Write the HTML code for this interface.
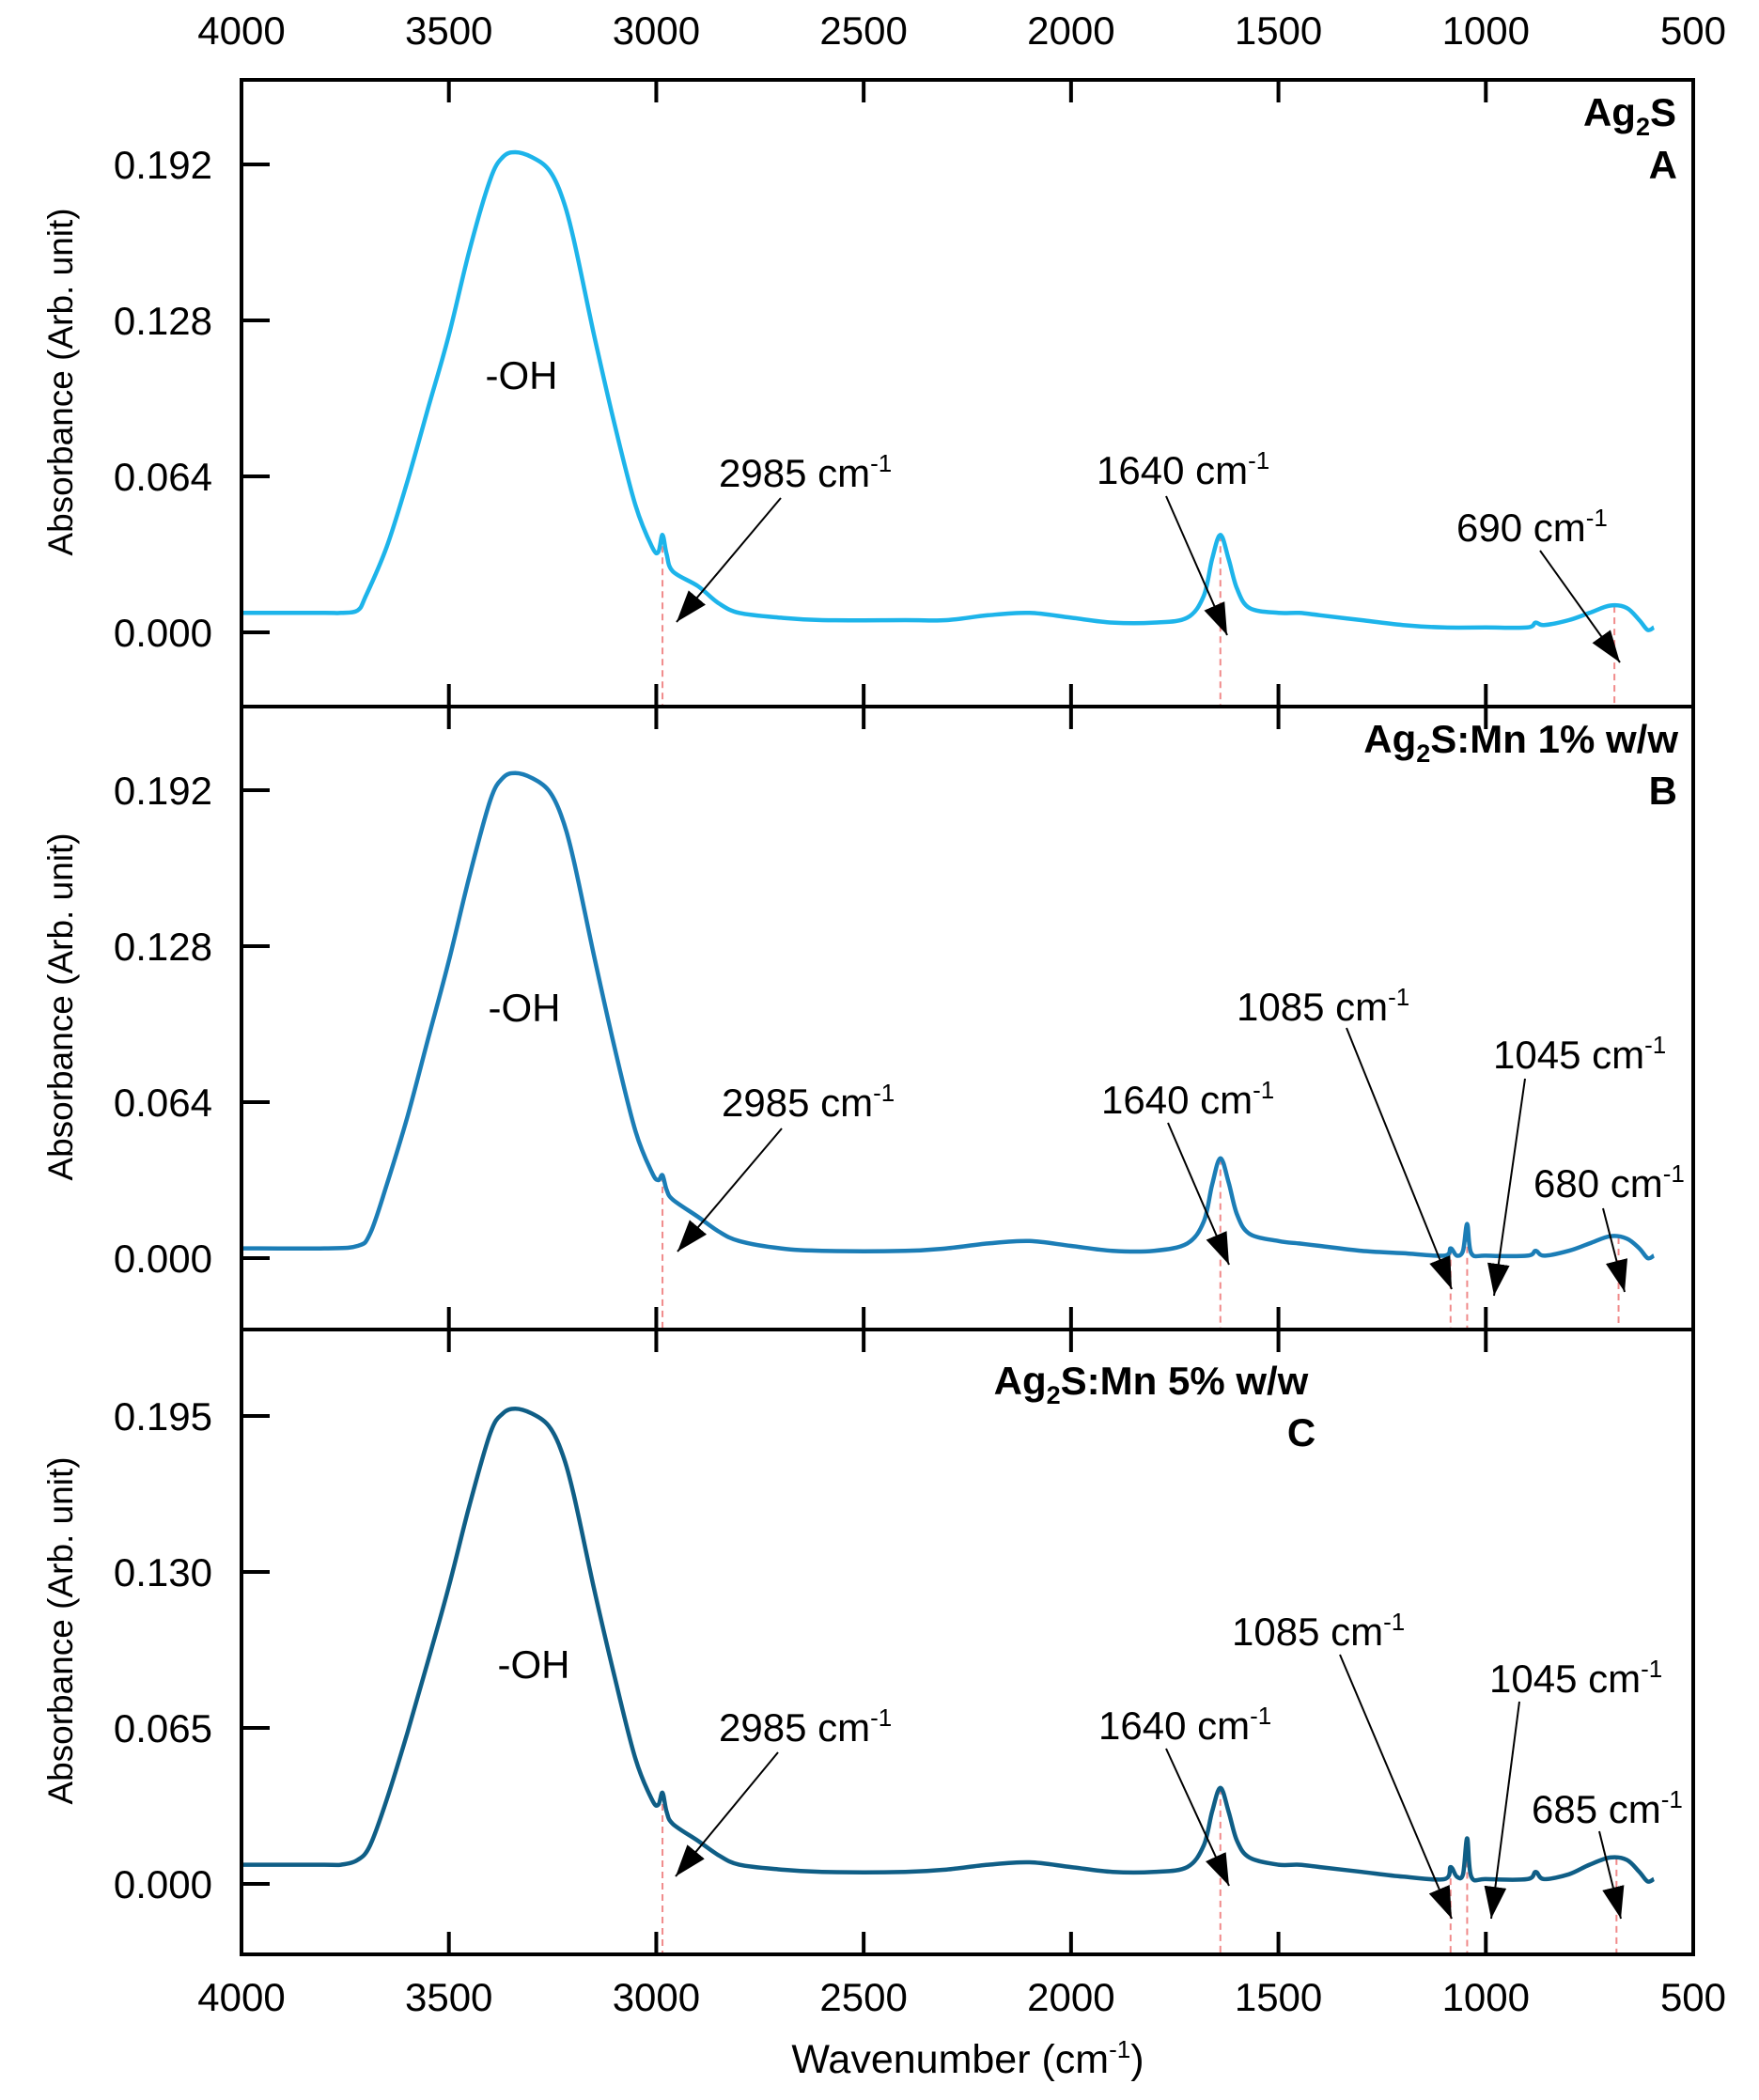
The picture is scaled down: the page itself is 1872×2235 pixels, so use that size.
<!DOCTYPE html>
<html><head><meta charset="utf-8">
<style>
html,body{margin:0;padding:0;background:#fff;}
svg{display:block;font-family:"Liberation Sans",Arial,sans-serif;}
</style></head>
<body>
<svg id="chart" width="1872" height="2235" viewBox="0 0 1872 2235" xmlns="http://www.w3.org/2000/svg">
</svg>
<script>
// ---- data ----
const xTicks = [4000,3500,3000,2500,2000,1500,1000,500];
const yTicksA = [0.000,0.064,0.128,0.192];
const yTicksB = [0.000,0.064,0.128,0.192];
const yTicksC = [0.000,0.065,0.130,0.195];
const wnA = [4000,3800,3760,3720,3700,3650,3600,3550,3500,3450,3400,3370,3340,3300,3260,3230,3200,3150,3100,3050,3010,2995,2985,2975,2960,2900,2850,2800,2700,2600,2400,2300,2200,2100,2000,1900,1800,1720,1680,1660,1640,1620,1600,1570,1500,1450,1400,1300,1200,1100,1000,900,880,860,800,750,700,660,630,610,595];
const absA = [0.008,0.008,0.008,0.009,0.015,0.035,0.062,0.092,0.122,0.157,0.186,0.195,0.197,0.195,0.190,0.180,0.162,0.122,0.085,0.052,0.035,0.033,0.040,0.032,0.025,0.019,0.012,0.008,0.006,0.005,0.005,0.005,0.007,0.008,0.006,0.004,0.004,0.006,0.015,0.030,0.040,0.030,0.018,0.010,0.008,0.008,0.007,0.005,0.003,0.002,0.002,0.002,0.004,0.003,0.005,0.008,0.011,0.010,0.005,0.001,0.002];
const wnB = [4000,3800,3720,3690,3650,3600,3550,3500,3450,3400,3370,3340,3300,3260,3230,3200,3150,3100,3050,3010,2995,2985,2975,2960,2900,2850,2800,2700,2600,2400,2300,2200,2100,2000,1900,1800,1720,1680,1660,1640,1620,1600,1570,1500,1450,1400,1300,1200,1100,1085,1070,1055,1045,1035,1000,900,880,860,800,750,700,660,630,610,595];
const absB = [0.004,0.004,0.005,0.010,0.030,0.058,0.090,0.122,0.157,0.188,0.197,0.199,0.197,0.192,0.182,0.164,0.124,0.086,0.052,0.035,0.032,0.034,0.028,0.024,0.017,0.011,0.007,0.004,0.003,0.003,0.004,0.006,0.007,0.005,0.003,0.003,0.006,0.015,0.030,0.041,0.031,0.018,0.010,0.007,0.006,0.005,0.003,0.002,0.001,0.004,0.001,0.003,0.014,0.002,0.001,0.001,0.003,0.001,0.003,0.006,0.009,0.008,0.004,0.000,0.001];
const wnC = [4000,3800,3760,3720,3690,3650,3600,3550,3500,3450,3400,3370,3340,3300,3260,3230,3200,3150,3100,3050,3010,2995,2985,2975,2960,2900,2850,2800,2700,2600,2400,2300,2200,2100,2000,1900,1800,1720,1680,1660,1640,1620,1600,1570,1500,1450,1400,1300,1200,1100,1085,1070,1055,1045,1035,1000,900,880,860,800,750,700,660,630,610,595];
const absC = [0.008,0.008,0.008,0.010,0.016,0.035,0.063,0.093,0.124,0.158,0.188,0.196,0.198,0.196,0.191,0.181,0.163,0.123,0.086,0.052,0.035,0.033,0.038,0.030,0.025,0.018,0.012,0.008,0.006,0.005,0.005,0.006,0.008,0.009,0.007,0.005,0.005,0.007,0.016,0.030,0.040,0.030,0.018,0.011,0.008,0.008,0.007,0.005,0.003,0.002,0.007,0.003,0.004,0.019,0.003,0.002,0.002,0.005,0.002,0.004,0.008,0.011,0.010,0.005,0.001,0.002];
const peaksA = [2985,1640,690];
const peaksB = [2985,1640,1085,1045,680];
const peaksC = [2985,1640,1085,1045,685];

// ---- layout ----
const L=257, R=1802;
const panels = [
 {top:85, bot:752, y0:673, step:0.064, ticks:yTicksA, wn:wnA, ab:absA, peaks:peaksA, color:"#1db4ea", id:"a"},
 {top:752, bot:1415, y0:1339, step:0.064, ticks:yTicksB, wn:wnB, ab:absB, peaks:peaksB, color:"#1b7db6", id:"b"},
 {top:1415, bot:2080, y0:2005, step:0.065, ticks:yTicksC, wn:wnC, ab:absC, peaks:peaksC, color:"#0f5e86", id:"c"}
];
const pxPerStep=166;
const svg=document.getElementById('chart');
const NS="http://www.w3.org/2000/svg";
function X(w){return L+(4000-w)*(R-L)/3500;}
function mk(tag,attrs,parent){const e=document.createElementNS(NS,tag);for(const k in attrs)e.setAttribute(k,attrs[k]);(parent||svg).appendChild(e);return e;}
function txt(s,x,y,size,anchor,weight,parent){const t=mk('text',{x:x,y:y,'font-size':size,'text-anchor':anchor||'start','font-weight':weight||'normal',fill:'#000'},parent);t.textContent=s;return t;}
function interp(wn,ab,w){for(let i=0;i<wn.length-1;i++){if(w<=wn[i]&&w>=wn[i+1]){const t=(wn[i]-w)/(wn[i]-wn[i+1]);return ab[i]+t*(ab[i+1]-ab[i]);}}return ab[ab.length-1];}

panels.forEach(p=>{
  const Y=v=>p.y0-v/p.step*pxPerStep;
  const g=mk('g',{});
  
  
  const pts=p.wn.map((w,i)=>[X(w),Y(p.ab[i])]);
  let d='M'+pts[0][0].toFixed(1)+','+pts[0][1].toFixed(1);
  for(let i=0;i<pts.length-1;i++){
    const p0=pts[Math.max(0,i-1)],p1=pts[i],p2=pts[i+1],p3=pts[Math.min(pts.length-1,i+2)];
    const c1=[p1[0]+(p2[0]-p0[0])/6,p1[1]+(p2[1]-p0[1])/6];
    const c2=[p2[0]-(p3[0]-p1[0])/6,p2[1]-(p3[1]-p1[1])/6];
    d+=' C'+c1[0].toFixed(1)+','+c1[1].toFixed(1)+' '+c2[0].toFixed(1)+','+c2[1].toFixed(1)+' '+p2[0].toFixed(1)+','+p2[1].toFixed(1);
  }
  p.peaks.forEach(w=>{
    const ln=mk('line',{x1:X(w),x2:X(w),y1:Y(interp(p.wn,p.ab,w)),y2:p.bot,stroke:'#f08a8a','stroke-width':2,'stroke-dasharray':'7,5'},g);
    
    
  });
  const c=mk('path',{d:d,fill:'none',stroke:p.color,'stroke-width':4.5,'stroke-linejoin':'round'},g);
  
  
  const fr=mk('rect',{x:L,y:p.top,width:R-L,height:p.bot-p.top,fill:'none',stroke:'#000','stroke-width':4},g);
  
  
  xTicks.slice(1,-1).forEach(w=>{
    mk('line',{x1:X(w),x2:X(w),y1:p.top,y2:p.top+24,stroke:'#000','stroke-width':4},g);
    mk('line',{x1:X(w),x2:X(w),y1:p.bot,y2:p.bot-24,stroke:'#000','stroke-width':4},g);
  });
  p.ticks.forEach(v=>{
    mk('line',{x1:L,x2:L+30,y1:Y(v),y2:Y(v),stroke:'#000','stroke-width':4},g);
    const t=txt(v.toFixed(3),226,Y(v)+15,42,'end','normal',g);
    
    
  });
  const yt=txt('Absorbance (Arb. unit)',0,0,37,'middle','normal',g);
  yt.setAttribute('transform','translate(77,'+((p.top+p.bot)/2-12)+') rotate(-90)');
  
  
});

xTicks.forEach(w=>{
  const t1=txt(String(w),X(w),47,42,'middle');
  
  
  const t2=txt(String(w),X(w),2140,42,'middle');
  
  
});
</script>

<svg style="position:absolute;left:0;top:0" width="1872" height="2235" xmlns="http://www.w3.org/2000/svg" font-family="Liberation Sans, Arial, sans-serif">
<defs><marker id="arr" viewBox="0 0 10 10" refX="10" refY="5" markerWidth="34" markerHeight="34" markerUnits="userSpaceOnUse" orient="auto"><path d="M0,1.5 L10,5 L0,8.5 Z" fill="#000"/></marker></defs>
<text x="1030" y="2206" font-size="43" text-anchor="middle">Wavenumber (cm<tspan font-size="26" dy="-16">-1</tspan><tspan dy="16">)</tspan></text>

<g font-weight="bold" font-size="42">
<text x="1784" y="134" text-anchor="end">Ag<tspan font-size="27" dy="10">2</tspan><tspan dy="-10">S</tspan></text>
<text x="1785" y="190" text-anchor="end">A</text>
</g>
<g font-weight="bold" font-size="42">
<text x="1786" y="801" text-anchor="end">Ag<tspan font-size="27" dy="10">2</tspan><tspan dy="-10">S:Mn 1% w/w</tspan></text>
<text x="1785" y="856" text-anchor="end">B</text>
</g>
<g font-weight="bold" font-size="42">
<text x="1225" y="1484" text-anchor="middle">Ag<tspan font-size="27" dy="10">2</tspan><tspan dy="-10">S:Mn 5% w/w</tspan></text>
<text x="1385" y="1539" text-anchor="middle">C</text>
</g>

<g font-size="42">
<text x="555" y="414" text-anchor="middle">-OH</text>
<text x="558" y="1087" text-anchor="middle">-OH</text>
<text x="568" y="1786" text-anchor="middle">-OH</text>
</g>

<g font-size="42" stroke="#000">
<text stroke="none" x="765" y="518">2985 cm<tspan font-size="26" dy="-16">-1</tspan></text>
<line x1="831" y1="530" x2="720" y2="662" stroke-width="2" marker-end="url(#arr)"/>
<text stroke="none" x="1167" y="515">1640 cm<tspan font-size="26" dy="-16">-1</tspan></text>
<line x1="1241" y1="528" x2="1306" y2="676" stroke-width="2" marker-end="url(#arr)"/>
<text stroke="none" x="1550" y="576">690 cm<tspan font-size="26" dy="-16">-1</tspan></text>
<line x1="1639" y1="586" x2="1724" y2="705" stroke-width="2" marker-end="url(#arr)"/>

<text stroke="none" x="768" y="1188">2985 cm<tspan font-size="26" dy="-16">-1</tspan></text>
<line x1="832" y1="1201" x2="721" y2="1332" stroke-width="2" marker-end="url(#arr)"/>
<text stroke="none" x="1172" y="1185">1640 cm<tspan font-size="26" dy="-16">-1</tspan></text>
<line x1="1243" y1="1195" x2="1308" y2="1346" stroke-width="2" marker-end="url(#arr)"/>
<text stroke="none" x="1316" y="1086">1085 cm<tspan font-size="26" dy="-16">-1</tspan></text>
<line x1="1433" y1="1094" x2="1545" y2="1372" stroke-width="2" marker-end="url(#arr)"/>
<text stroke="none" x="1589" y="1137">1045 cm<tspan font-size="26" dy="-16">-1</tspan></text>
<line x1="1623" y1="1148" x2="1590" y2="1379" stroke-width="2" marker-end="url(#arr)"/>
<text stroke="none" x="1632" y="1274">680 cm<tspan font-size="26" dy="-16">-1</tspan></text>
<line x1="1706" y1="1286" x2="1729" y2="1375" stroke-width="2" marker-end="url(#arr)"/>

<text stroke="none" x="765" y="1853">2985 cm<tspan font-size="26" dy="-16">-1</tspan></text>
<line x1="828" y1="1865" x2="719" y2="1997" stroke-width="2" marker-end="url(#arr)"/>
<text stroke="none" x="1169" y="1851">1640 cm<tspan font-size="26" dy="-16">-1</tspan></text>
<line x1="1241" y1="1861" x2="1308" y2="2007" stroke-width="2" marker-end="url(#arr)"/>
<text stroke="none" x="1311" y="1751">1085 cm<tspan font-size="26" dy="-16">-1</tspan></text>
<line x1="1426" y1="1761" x2="1545" y2="2042" stroke-width="2" marker-end="url(#arr)"/>
<text stroke="none" x="1585" y="1801">1045 cm<tspan font-size="26" dy="-16">-1</tspan></text>
<line x1="1617" y1="1811" x2="1587" y2="2042" stroke-width="2" marker-end="url(#arr)"/>
<text stroke="none" x="1630" y="1940">685 cm<tspan font-size="26" dy="-16">-1</tspan></text>
<line x1="1702" y1="1949" x2="1725" y2="2042" stroke-width="2" marker-end="url(#arr)"/>
</g>
</svg>
</body></html>
